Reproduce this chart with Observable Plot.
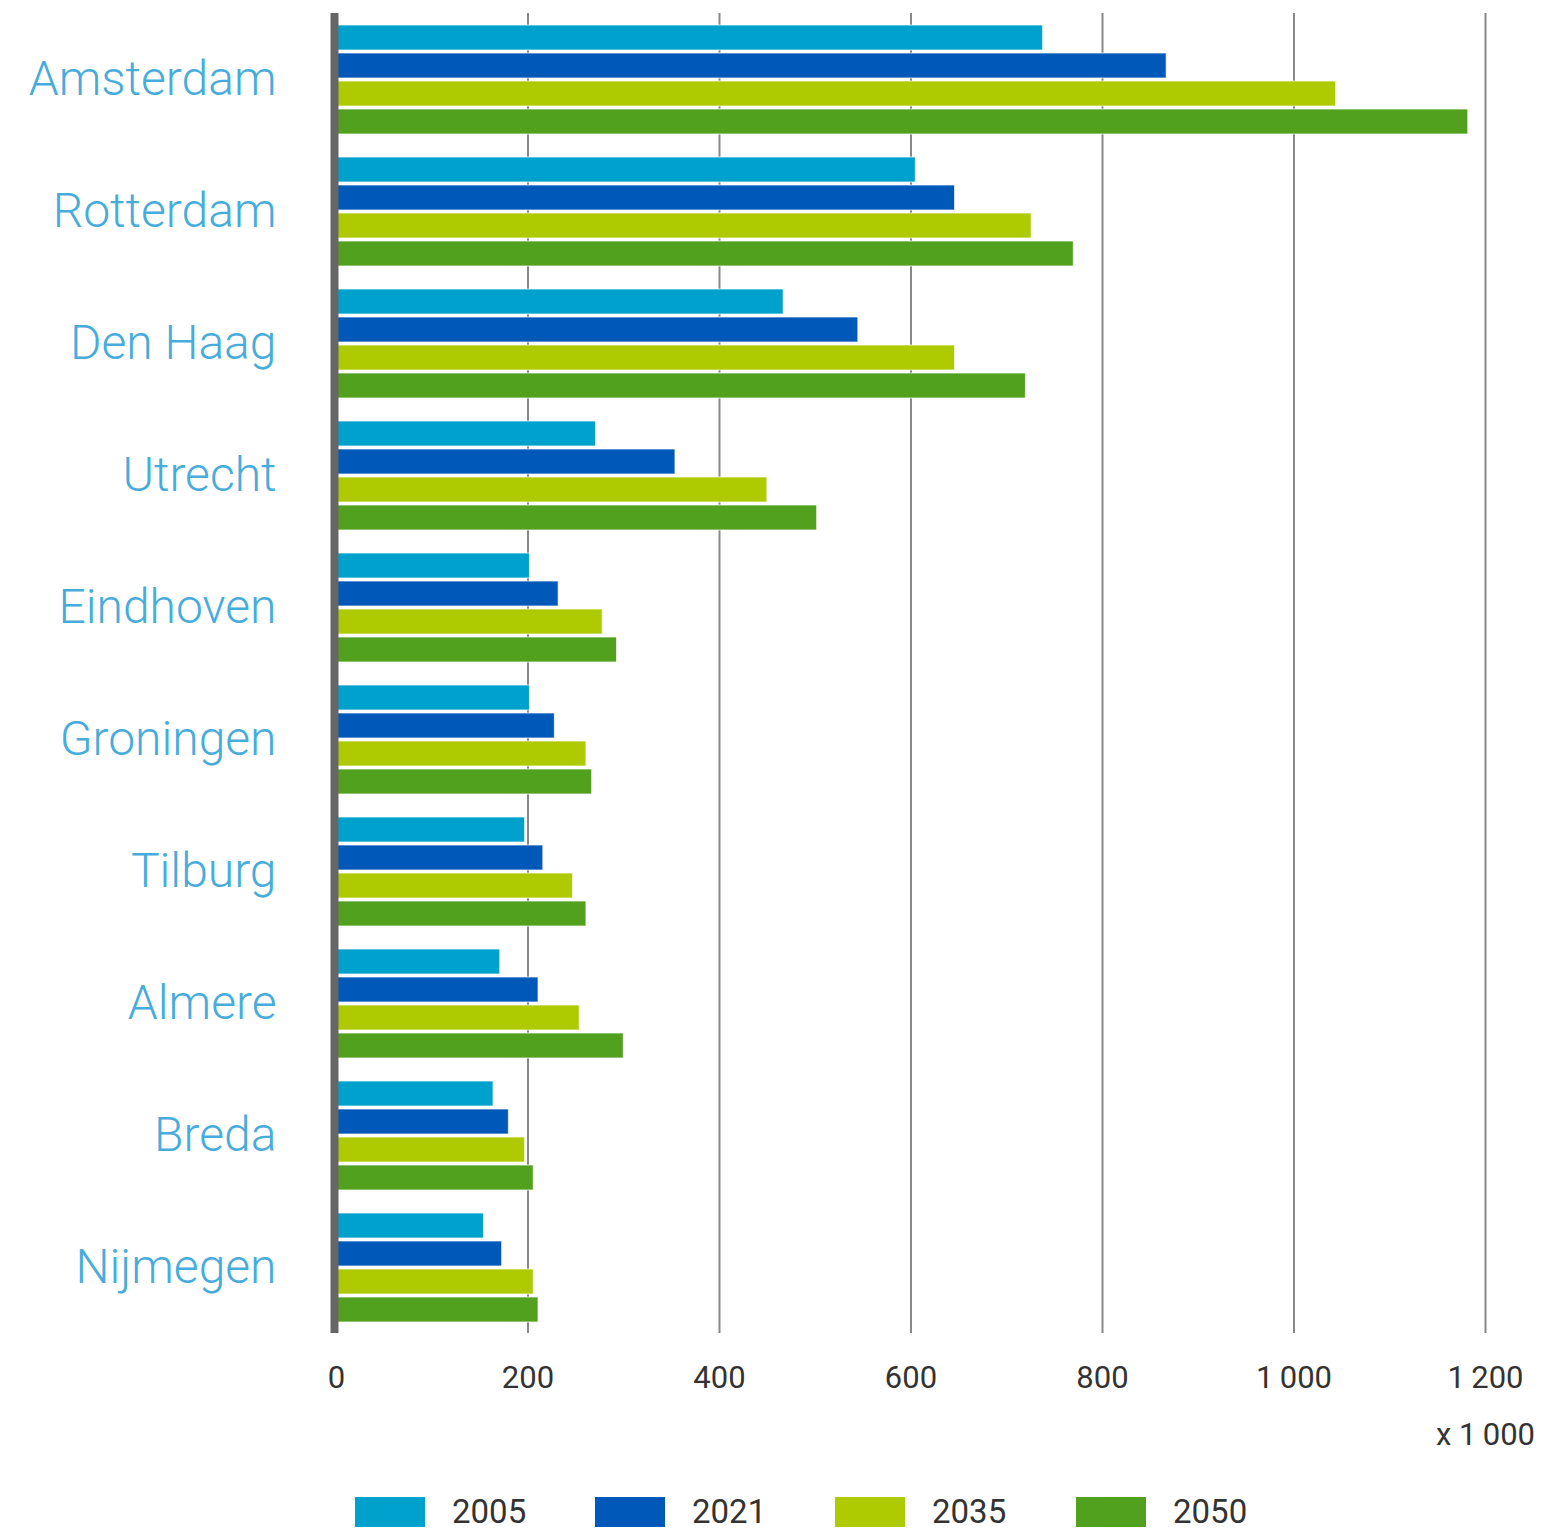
<!DOCTYPE html>
<html>
<head>
<meta charset="utf-8">
<script src="https://cdn.jsdelivr.net/npm/d3@7"></script>
<script src="https://cdn.jsdelivr.net/npm/@observablehq/plot@0.6"></script>
<style>
  html, body { margin: 0; padding: 0; background: #fff; }
  #wrap { position: relative; width: 1547px; height: 1531px; font-family: Roboto, "Open Sans", sans-serif; }
  #chart { position: absolute; left: 0; top: 0; }
  .unit { position: absolute; right: 12px; top: 1414px; font-size: 31px; line-height: 42px; color: #333; white-space: nowrap; }
  .legend { position: absolute; left: 0; top: 1497px; height: 30px; width: 1547px; }
  .item { position: absolute; top: 0; height: 30px; }
  .sw { position: absolute; left: 0; top: 0; width: 70px; height: 30px; }
  .lab { position: absolute; left: 97px; top: -6px; font-size: 33px; line-height: 42px; color: #333; white-space: nowrap; }
  g[aria-label="fy-axis tick label"] text { font-weight: 300; }
</style>
</head>
<body>
<div id="wrap">
  <div id="chart"></div>
  <div class="unit" id="unit"></div>
  <div class="legend" id="legend"></div>
</div>
<script>
const cities = ["Amsterdam","Rotterdam","Den Haag","Utrecht","Eindhoven","Groningen","Tilburg","Almere","Breda","Nijmegen"];
const years = ["2005","2021","2035","2050"];
const colors = ["#00a1cd","#0058b8","#aeca00","#52a11e"];
const v2005 = [738, 605, 467, 271, 202, 202, 197, 171, 164, 154];
const v2021 = [867, 646, 545, 354, 232, 228, 216, 211, 180, 173];
const v2035 = [1044, 726, 646, 450, 278, 261, 247, 254, 197, 206];
const v2050 = [1182, 770, 720, 502, 293, 267, 261, 300, 206, 211];
const xTicks = [0, 200, 400, 600, 800, 1000, 1200];
const xTickLabels = ["0", "200", "400", "600", "800", "1\u2009000", "1\u2009200"];
const unitLabel = "x 1\u2009000";

const series = {"2005": v2005, "2021": v2021, "2035": v2035, "2050": v2050};
const data = [];
cities.forEach((c, i) => years.forEach(y => data.push({city: c, year: y, value: series[y][i]})));

const H = 1400;
const chart = Plot.plot({
  width: 1547,
  height: H,
  marginLeft: 336,
  marginRight: 62,
  marginTop: 11,
  marginBottom: H - 1335,
  style: {fontFamily: "Roboto, sans-serif", background: "white"},
  x: {domain: [0, 1200]},
  y: {domain: years, paddingInner: 0.12, paddingOuter: 0.36, axis: null},
  fy: {domain: cities, padding: 0},
  color: {domain: years, range: colors},
  marks: [
    Plot.gridX({ticks: xTicks.slice(1), stroke: "#888", strokeOpacity: 1, strokeWidth: 2}),
    Plot.barX(data, {x: "value", y: "year", fy: "city", fill: "year", stroke: "#ffffff", strokeOpacity: 0.7, strokeWidth: 1}),
    Plot.ruleX([0], {stroke: "#666", strokeWidth: 8, dx: -2}),
    Plot.axisX({ticks: xTicks, tickFormat: (d, i) => xTickLabels[xTicks.indexOf(d)], tickSize: 0, tickPadding: 32, fontSize: 31, fill: "#333", label: null}),
    Plot.axisFy({anchor: "left", tickSize: 0, tickPadding: 60, fontSize: 48, fontWeight: 300, fill: "#47acdc", label: null})
  ]
});
document.getElementById("chart").appendChild(chart);

document.getElementById("unit").textContent = unitLabel;
const leg = document.getElementById("legend");
const legX = [355, 595, 835, 1076];
years.forEach((y, i) => {
  const it = document.createElement("div");
  it.className = "item";
  it.style.left = legX[i] + "px";
  it.innerHTML = `<div class="sw" style="background:${colors[i]}"></div><div class="lab">${y}</div>`;
  leg.appendChild(it);
});
</script>
</body>
</html>
